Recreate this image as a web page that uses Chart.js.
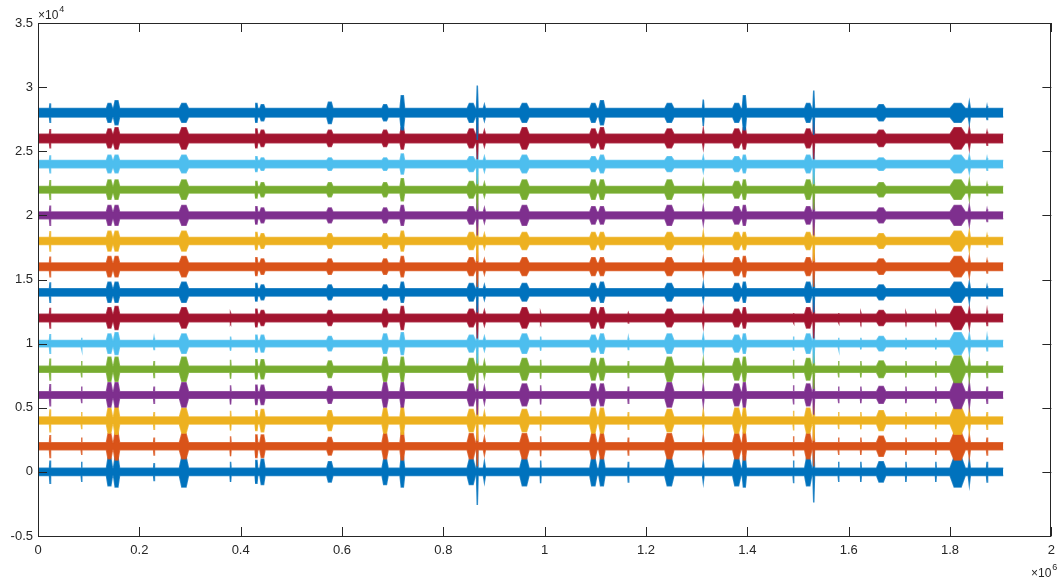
<!DOCTYPE html>
<html>
<head>
<meta charset="utf-8">
<script src="https://cdn.jsdelivr.net/npm/chart.js@4/dist/chart.umd.min.js"></script>
<style>
  html, body { margin: 0; padding: 0; background: #fff; }
  #wrap { width: 1062px; height: 581px; }
</style>
</head>
<body>
<div id="wrap"><canvas id="js-chart-channels" width="1062" height="581"></canvas></div>
<script>
// 15 channels stacked 2000 apart, noise band + bursts
const xEnd = 1905000;
const xTickLabels = ["0", "0.2", "0.4", "0.6", "0.8", "1", "1.2", "1.4", "1.6", "1.8", "2"];
const yTickLabels = ["-0.5", "0", "0.5", "1", "1.5", "2", "2.5", "3", "3.5"];

const channelOffset = [0, 2000, 4000, 6000, 8000, 10000, 12000, 14000, 16000, 18000, 20000, 22000, 24000, 26000, 28000];
const channelColor = ["#0072BD", "#D95319", "#EDB120", "#7E2F8E", "#77AC30", "#4DBEEE", "#A2142F",
                      "#0072BD", "#D95319", "#EDB120", "#7E2F8E", "#77AC30", "#4DBEEE", "#A2142F", "#0072BD"];
// half width of the quiet noise band per channel
const channelBase = [280, 280, 270, 250, 240, 250, 290, 280, 290, 270, 270, 250, 280, 330, 330];

// burst / spike positions and half widths (x in samples)
const burstX = [23700, 86000, 141000, 155000, 229000, 288000, 380000, 431000, 443000, 576000,
                685000, 719000, 855000, 867000, 881000, 960000, 992000, 1096000, 1113000, 1165000,
                1246000, 1313000, 1379000, 1394000, 1491000, 1520000, 1531000, 1580000, 1624000, 1664000,
                1713000, 1772000, 1815000, 1838000, 1873000];
const burstHalfWidth = [1000, 800, 6000, 6000, 800, 9000, 1000, 2500, 5000, 6000,
                        6000, 4500, 8000, 1500, 2000, 9000, 800, 7000, 6000, 800,
                        9000, 1500, 8000, 4000, 800, 7000, 1500, 800, 800, 9000,
                        800, 800, 15000, 2000, 1000];

// extra amplitude above the band at each burst, one row per channel (0 .. 28000)
const burstAmp = [
  [600, 500, 800, 900, 400, 900, 500, 600, 700, 500, 700, 900, 700, 2300, 500, 800, 600, 800, 800, 500, 800, 500, 800, 900, 600, 800, 2100, 500, 500, 500, 500, 500, 900, 700, 500],
  [600, 400, 700, 800, 400, 700, 500, 600, 600, 400, 700, 800, 700, 1300, 400, 700, 500, 700, 700, 400, 700, 500, 700, 800, 500, 700, 1300, 400, 400, 500, 400, 400, 800, 600, 400],
  [600, 400, 700, 800, 400, 700, 500, 500, 600, 500, 700, 800, 600, 1300, 400, 600, 500, 700, 700, 400, 600, 500, 700, 700, 500, 700, 1300, 400, 400, 500, 400, 400, 800, 600, 400],
  [600, 400, 700, 700, 400, 700, 500, 500, 500, 400, 700, 700, 600, 1300, 400, 600, 500, 600, 600, 400, 700, 500, 600, 700, 500, 600, 1300, 400, 400, 400, 400, 400, 800, 700, 400],
  [600, 400, 700, 700, 400, 700, 500, 500, 500, 400, 700, 700, 600, 1300, 400, 600, 500, 600, 600, 400, 700, 500, 600, 700, 500, 600, 1300, 400, 400, 400, 400, 400, 800, 600, 400],
  [500, 200, 500, 600, 200, 500, 300, 400, 400, 300, 500, 600, 400, 1300, 300, 500, 300, 400, 500, 200, 500, 400, 400, 500, 300, 500, 1300, 200, 200, 300, 200, 200, 600, 500, 300],
  [500, 0, 500, 600, 0, 500, 100, 400, 300, 300, 400, 600, 400, 1300, 300, 500, 100, 500, 500, 100, 400, 400, 400, 500, 100, 500, 1300, 100, 100, 300, 100, 100, 600, 500, 300],
  [500, 0, 500, 500, 0, 500, 0, 400, 300, 300, 300, 500, 400, 1300, 300, 400, 0, 400, 500, 0, 400, 400, 400, 500, 0, 500, 1300, 0, 0, 300, 0, 0, 500, 500, 200],
  [500, 0, 500, 500, 0, 500, 0, 400, 300, 300, 300, 500, 400, 1300, 300, 400, 0, 400, 400, 0, 400, 400, 400, 500, 0, 400, 1300, 0, 0, 300, 0, 0, 500, 500, 200],
  [500, 0, 500, 500, 0, 500, 0, 400, 300, 300, 300, 500, 400, 1300, 300, 400, 0, 400, 400, 0, 400, 400, 400, 400, 0, 400, 1300, 0, 0, 300, 0, 0, 500, 500, 200],
  [500, 0, 500, 500, 0, 500, 0, 400, 300, 300, 300, 500, 400, 1300, 300, 500, 0, 400, 400, 0, 500, 400, 400, 500, 0, 400, 1300, 0, 0, 300, 0, 0, 500, 500, 200],
  [500, 0, 500, 500, 0, 500, 0, 400, 300, 300, 300, 600, 400, 1300, 300, 500, 0, 500, 500, 0, 500, 400, 400, 500, 0, 500, 1300, 0, 0, 300, 0, 0, 500, 500, 200],
  [400, 0, 400, 400, 0, 400, 0, 300, 200, 200, 200, 500, 300, 1300, 300, 400, 0, 300, 400, 0, 300, 300, 300, 400, 0, 400, 1300, 0, 0, 200, 0, 0, 400, 400, 200],
  [400, 0, 400, 500, 0, 500, 0, 400, 300, 300, 300, 500, 400, 1300, 300, 500, 0, 400, 500, 0, 400, 400, 400, 500, 0, 400, 1300, 0, 0, 300, 0, 0, 500, 500, 200],
  [400, 0, 400, 600, 0, 400, 0, 400, 300, 500, 300, 1000, 400, 1800, 300, 400, 0, 400, 600, 0, 400, 700, 400, 1000, 0, 400, 1400, 0, 0, 300, 0, 0, 400, 500, 200]
];

// band edge: quiet level, bursts drawn as blocks with a flat top, thin spikes as needles
function envelope(c, sign) {
  const off = channelOffset[c], base = channelBase[c];
  const pts = [{ x: 0, y: off + sign * base }];
  burstX.forEach((bx, i) => {
    const w = burstHalfWidth[i];
    const top = off + sign * (base + burstAmp[c][i]);
    pts.push({ x: bx - w, y: off + sign * base });
    if (w > 2000) {
      pts.push({ x: bx - w * 0.45, y: top });
      pts.push({ x: bx + w * 0.45, y: top });
    } else {
      pts.push({ x: bx, y: top });
    }
    pts.push({ x: bx + w, y: off + sign * base });
  });
  pts.push({ x: xEnd, y: off + sign * base });
  return pts;
}

function fade(hex, a) {
  const n = parseInt(hex.slice(1), 16);
  return "rgba(" + (n >> 16) + "," + ((n >> 8) & 255) + "," + (n & 255) + "," + a + ")";
}

// last channel on top, like the original plot order
const datasets = [];
for (let c = channelOffset.length - 1; c >= 0; c--) {
  datasets.push({
    data: envelope(c, 1),
    borderColor: fade(channelColor[c], 0.8),
    backgroundColor: channelColor[c],
    borderWidth: 1.5,
    fill: "+1"
  });
  datasets.push({
    data: envelope(c, -1),
    borderColor: fade(channelColor[c], 0.8),
    backgroundColor: channelColor[c],
    borderWidth: 1.5,
    fill: false
  });
}

const axisColor = "#262626";
const boxTicks = {
  id: "boxTicks",
  afterDraw(chart) {
    const { ctx, chartArea: a, scales } = chart;
    ctx.save();
    ctx.strokeStyle = axisColor;
    ctx.lineWidth = 1;
    ctx.strokeRect(Math.round(a.left) + 0.5, Math.round(a.top) + 0.5,
                   Math.round(a.right - a.left) - 1, Math.round(a.bottom - a.top));
    ctx.beginPath();
    scales.x.ticks.forEach(t => {
      const px = Math.round(scales.x.getPixelForValue(t.value)) + 0.5;
      ctx.moveTo(px, a.bottom); ctx.lineTo(px, a.bottom - 9);
      ctx.moveTo(px, a.top); ctx.lineTo(px, a.top + 9);
    });
    scales.y.ticks.forEach(t => {
      const py = Math.round(scales.y.getPixelForValue(t.value)) + 0.5;
      ctx.moveTo(a.left, py); ctx.lineTo(a.left + 9, py);
      ctx.moveTo(a.right, py); ctx.lineTo(a.right - 9, py);
    });
    ctx.stroke();
    // exponent labels
    ctx.fillStyle = axisColor;
    ctx.textBaseline = "alphabetic";
    ctx.textAlign = "left";
    ctx.font = "12px 'Liberation Sans', Arial, sans-serif";
    ctx.fillText("\u00d710", a.left, 19);
    let w = ctx.measureText("\u00d710").width;
    ctx.font = "9px 'Liberation Sans', Arial, sans-serif";
    ctx.fillText("4", a.left + w + 1, 12);
    ctx.font = "12px 'Liberation Sans', Arial, sans-serif";
    ctx.fillText("\u00d710", 1031, 577);
    w = ctx.measureText("\u00d710").width;
    ctx.font = "9px 'Liberation Sans', Arial, sans-serif";
    ctx.fillText("6", 1031 + w + 1, 570);
    ctx.restore();
  }
};

const tickFont = { family: "'Liberation Sans', Arial, sans-serif", size: 13 };

new Chart(document.getElementById("js-chart-channels"), {
  type: "line",
  data: { datasets: datasets },
  options: {
    responsive: false,
    animation: false,
    events: [],
    layout: { padding: { left: 0, top: 23, right: 2, bottom: 0 } },
    elements: { point: { radius: 0 }, line: { tension: 0 } },
    plugins: { legend: { display: false }, tooltip: { enabled: false } },
    scales: {
      x: {
        type: "linear",
        min: 0,
        max: 2000000,
        grid: { display: false, drawTicks: false },
        border: { display: false },
        ticks: {
          stepSize: 200000,
          padding: 7,
          color: axisColor,
          font: tickFont,
          maxRotation: 0,
          autoSkip: false,
          callback: (v, i) => xTickLabels[i]
        },
        afterFit: s => { s.height = 45; }
      },
      y: {
        type: "linear",
        min: -5000,
        max: 35000,
        grid: { display: false, drawTicks: false },
        border: { display: false },
        ticks: {
          stepSize: 5000,
          padding: 5,
          color: axisColor,
          font: tickFont,
          autoSkip: false,
          callback: (v, i) => yTickLabels[i]
        },
        afterFit: s => { s.width = 38; }
      }
    }
  },
  plugins: [boxTicks]
});
</script>
</body>
</html>
